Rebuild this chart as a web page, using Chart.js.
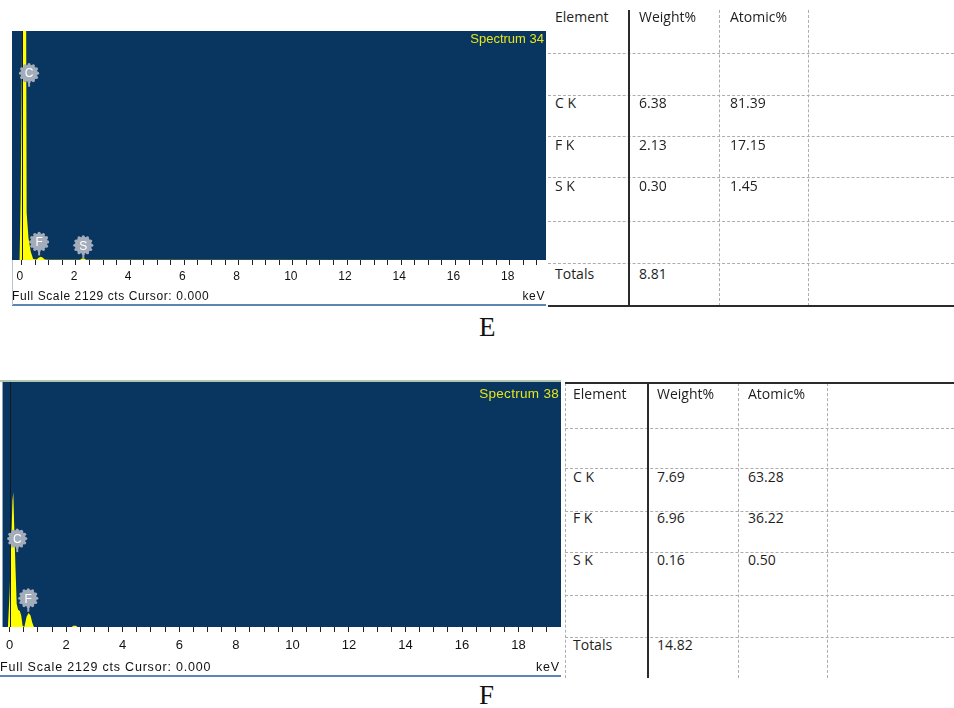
<!DOCTYPE html>
<html>
<head>
<meta charset="utf-8">
<script src="https://cdn.jsdelivr.net/npm/chart.js@4.4.1/dist/chart.umd.min.js"></script>
<style>
  html, body { margin: 0; padding: 0; background: #fff; }
  #page { position: relative; width: 954px; height: 708px; overflow: hidden; background: #fff; }
  canvas { position: absolute; }
  .abs { position: absolute; white-space: nowrap; line-height: 1; }
  .spec-name { font-family: "Liberation Sans", Arial, sans-serif; font-size: 13px; color: #e6e617; }
  .status { font-family: "Liberation Sans", Arial, sans-serif; font-size: 12px; letter-spacing: 0.6px; color: #111; }
  .caption { font-family: "Liberation Serif", "Times New Roman", serif; font-size: 27px; color: #111; }
  .cell { font-family: "Open Sans", sans-serif; font-size: 14px; color: #1e1e1e; }
  .hl { position: absolute; height: 0; border-top: 1px dashed #adadad; }
  .vl { position: absolute; width: 0; border-left: 1px dashed #adadad; }
  .solid-h { position: absolute; background: #2b2b2b; }
  .solid-v { position: absolute; background: #2b2b2b; }
</style>
</head>
<body>
<div id="page">
  <canvas id="specE" width="534" height="275" style="left:12px; top:31px;"></canvas>
  <canvas id="specF" width="561" height="296" style="left:0px; top:382px;"></canvas>
</div>
<script>
// ---- Spectrum E (Spectrum 34) ----
const energyE = [-0.36, -0.08, -0.04, 0.0, 0.03, 0.08, 0.12, 0.16, 0.17, 0.19, 0.25, 0.33, 0.42, 0.55, 0.62, 0.7, 0.78, 0.85, 1.0, 2.15, 2.22, 2.3, 2.38, 19.34];
const countsE = [0, 0, 600, 1700, 2600, 3400, 3000, 2400, 1200, 440, 200, 80, 10, 5, 20, 30, 22, 5, 2, 2, 14, 14, 2, 0];

// ---- Spectrum F (Spectrum 38) ----
const energyF = [-0.25, -0.06, 0.0, 0.06, 0.1, 0.13, 0.16, 0.21, 0.25, 0.3, 0.36, 0.41, 0.46, 0.52, 0.6, 0.67, 0.74, 0.8, 0.86, 2.2, 2.25, 2.35, 2.4, 19.5];
const countsF = [0, 0, 300, 750, 1100, 1170, 900, 500, 200, 150, 140, 100, 10, 0, 90, 122, 100, 40, 0, 0, 10, 10, 0, 0];

// Element line markers (energy in keV, label anchor height in counts)
const markerLabelsE = ['C', 'F', 'S'];
const markerKeVE = [0.27, 0.64, 2.27];
const markerCountsE = [1737, 168, 137];
const markerLabelsF = ['C', 'F'];
const markerKeVF = [0.27, 0.66];
const markerCountsF = [768, 250];

// Acquisition info
const spectrumNames = ['Spectrum 34', 'Spectrum 38'];
const fullScaleCts = 2129;
const cursorKeV = 0.0;

// Axis ticks (keV)
const tickKeV = [];
for (let v = 0; v <= 19; v += 0.5) tickKeV.push(v);

// ---- Quantification tables ----
const elements = ['C K', 'F K', 'S K'];
const weightE = [6.38, 2.13, 0.30];
const atomicE = [81.39, 17.15, 1.45];
const totalE = 8.81;
const weightF = [7.69, 6.96, 0.16];
const atomicF = [63.28, 36.22, 0.50];
const totalF = 14.82;

const NAVY = '#093561';
const YELLOW = '#ffff00';

// Plot background: white canvas, navy plot region
const panelBackground = {
  id: 'panelBackground',
  beforeDraw(chart) {
    const { ctx, chartArea: a } = chart;
    ctx.save();
    ctx.fillStyle = '#ffffff';
    ctx.fillRect(0, 0, chart.width, chart.height);
    ctx.fillStyle = NAVY;
    ctx.fillRect(a.left, a.top, a.right - a.left, a.bottom - a.top);
    ctx.restore();
  }
};

// Cursor line and element markers
const peakMarkers = {
  id: 'peakMarkers',
  afterDatasetsDraw(chart, args, opts) {
    const { ctx, chartArea: a } = chart;
    const xs = chart.scales.x, ys = chart.scales.y;
    ctx.save();
    // cursor
    const cx = Math.round(xs.getPixelForValue(opts.cursor)) + 0.5;
    ctx.strokeStyle = '#15171c';
    ctx.lineWidth = 1;
    ctx.beginPath();
    ctx.moveTo(cx, a.top);
    ctx.lineTo(cx, a.bottom);
    ctx.stroke();
    // markers
    const r = 8.5;
    opts.labels.forEach((lab, i) => {
      const x = xs.getPixelForValue(opts.energies[i]);
      const y = ys.getPixelForValue(opts.heights[i]);
      ctx.fillStyle = '#a3acba';
      ctx.strokeStyle = '#a3acba';
      ctx.lineWidth = 2;
      ctx.beginPath();
      ctx.moveTo(x, y + r);
      ctx.lineTo(x, y + r + 5);
      ctx.stroke();
      ctx.beginPath();
      ctx.arc(x, y, r, 0, Math.PI * 2);
      ctx.fill();
      for (let k = 0; k < 12; k++) {
        const t = k * Math.PI / 6;
        ctx.beginPath();
        ctx.arc(x + Math.cos(t) * r, y + Math.sin(t) * r, 1.6, 0, Math.PI * 2);
        ctx.fill();
      }
      ctx.fillStyle = '#ffffff';
      ctx.font = '12px "Liberation Sans", Arial, sans-serif';
      ctx.textAlign = 'center';
      ctx.textBaseline = 'middle';
      ctx.fillText(lab, x, y + 1);
    });
    ctx.restore();
  }
};

function makeSpectrum(id, energies, counts, xMin, xMax, axisHeight, labelPad, labelShift, fontSize, markers) {
  return new Chart(document.getElementById(id), {
    type: 'line',
    data: {
      datasets: [{
        data: energies.map((e, i) => ({ x: e, y: counts[i] })),
        borderColor: YELLOW,
        backgroundColor: YELLOW,
        borderWidth: 0,
        fill: 'origin',
        pointRadius: 0,
        tension: 0
      }]
    },
    options: {
      responsive: false,
      animation: false,
      events: [],
      layout: { padding: 0 },
      plugins: {
        legend: { display: false },
        tooltip: { enabled: false },
        peakMarkers: markers
      },
      scales: {
        x: {
          type: 'linear',
          min: xMin,
          max: xMax,
          afterBuildTicks: s => { s.ticks = tickKeV.map(v => ({ value: v })); },
          afterFit: s => { s.height = axisHeight; },
          ticks: {
            autoSkip: false,
            maxRotation: 0,
            padding: labelPad,
            labelOffset: labelShift,
            color: '#111',
            font: { family: '"Liberation Sans", Arial, sans-serif', size: fontSize },
            callback: v => (Number.isInteger(v) && v % 2 === 0) ? String(v) : ''
          },
          grid: { drawOnChartArea: false, drawTicks: true, tickLength: 5, color: '#222', lineWidth: 1 },
          border: { display: false }
        },
        y: { display: false, min: 0, max: fullScaleCts }
      }
    },
    plugins: [panelBackground, peakMarkers]
  });
}

makeSpectrum('specE', energyE, countsE, -0.36, 19.34, 46, 4, -2, 12,
  { labels: markerLabelsE, energies: markerKeVE, heights: markerCountsE, cursor: cursorKeV });
makeSpectrum('specF', energyF, countsF, -0.25, 19.5, 51, 6, 0, 13,
  { labels: markerLabelsF, energies: markerKeVF, heights: markerCountsF, cursor: cursorKeV });

// ---- overlays: spectrum names, status bars, captions ----
const page = document.getElementById('page');
function addText(cls, text, css) {
  const d = document.createElement('div');
  d.className = 'abs ' + cls;
  d.textContent = text;
  Object.assign(d.style, css);
  page.appendChild(d);
  return d;
}
function addBox(cls, css) {
  const d = document.createElement('div');
  d.className = cls;
  Object.assign(d.style, css);
  page.appendChild(d);
  return d;
}
const statusText = 'Full Scale ' + fullScaleCts + ' cts Cursor: ' + cursorKeV.toFixed(3);

// panel E
addText('spec-name', spectrumNames[0], { right: (954 - 544) + 'px', top: '32px' });
addText('status', statusText, { left: '12px', top: '290px' });
addText('status', 'keV', { right: (954 - 545) + 'px', top: '290px' });
addBox('', { position: 'absolute', left: '12px', top: '304px', width: '534px', height: '2px', background: '#5d86b3' });
addBox('', { position: 'absolute', left: '12px', top: '260px', width: '1px', height: '45px', background: '#b9c3cf' });
addText('caption', 'E', { left: '479px', top: '314px' });

// panel F
addText('spec-name', spectrumNames[1], { right: (954 - 559) + 'px', top: '387px', fontSize: '13.5px', letterSpacing: '0.3px' });
addText('status', statusText, { left: '0px', top: '661px', fontSize: '12.5px', letterSpacing: '0.8px' });
addText('status', 'keV', { right: (954 - 560) + 'px', top: '661px', fontSize: '12.5px', letterSpacing: '0.8px' });
addBox('', { position: 'absolute', left: '0px', top: '675px', width: '561px', height: '2px', background: '#5d86b3' });
addBox('', { position: 'absolute', left: '0px', top: '380px', width: '561px', height: '2px', background: '#b3c7b0' });
addText('caption', 'F', { left: '479px', top: '682px' });

// ---- quantification tables ----
function buildTable(g, weights, atomics, total) {
  // grid
  g.hLines.forEach(y => addBox('hl', { left: g.left + 'px', top: y + 'px', width: (954 - g.left) + 'px' }));
  g.dashV.forEach(x => addBox('vl', { left: x + 'px', top: g.top + 'px', height: (g.bottom - g.top) + 'px' }));
  addBox('solid-v', { left: g.solidV + 'px', top: g.top + 'px', width: '2px', height: (g.bottom - g.top) + 'px' });
  if (g.topRule) addBox('solid-h', { left: g.left + 'px', top: g.topRule + 'px', width: (954 - g.left) + 'px', height: '2px' });
  if (g.bottomRule) addBox('solid-h', { left: g.left + 'px', top: g.bottomRule + 'px', width: (954 - g.left) + 'px', height: '2px' });
  // text
  const put = (txt, col, yc) => addText('cell', txt, { left: g.cols[col] + 'px', top: (yc - 8) + 'px' });
  put('Element', 0, g.rows[0]);
  put('Weight%', 1, g.rows[0]);
  put('Atomic%', 2, g.rows[0]);
  elements.forEach((el, i) => {
    put(el, 0, g.rows[i + 1]);
    put(weights[i].toFixed(2), 1, g.rows[i + 1]);
    put(atomics[i].toFixed(2), 2, g.rows[i + 1]);
  });
  put('Totals', 0, g.rows[4]);
  put(total.toFixed(2), 1, g.rows[4]);
}

buildTable({
  left: 548, top: 10, bottom: 306, solidV: 628, dashV: [719, 808],
  hLines: [53, 95, 136, 177, 221, 263], bottomRule: 305,
  cols: [555, 639, 730], rows: [18, 104, 146, 187, 275]
}, weightE, atomicE, totalE);

buildTable({
  left: 565, top: 383, bottom: 678, solidV: 647, dashV: [565, 738, 827],
  hLines: [428, 468, 511, 552, 595, 637], topRule: 382,
  cols: [573, 657, 748], rows: [395, 478, 519, 561, 646]
}, weightF, atomicF, totalF);
</script>
</body>
</html>
